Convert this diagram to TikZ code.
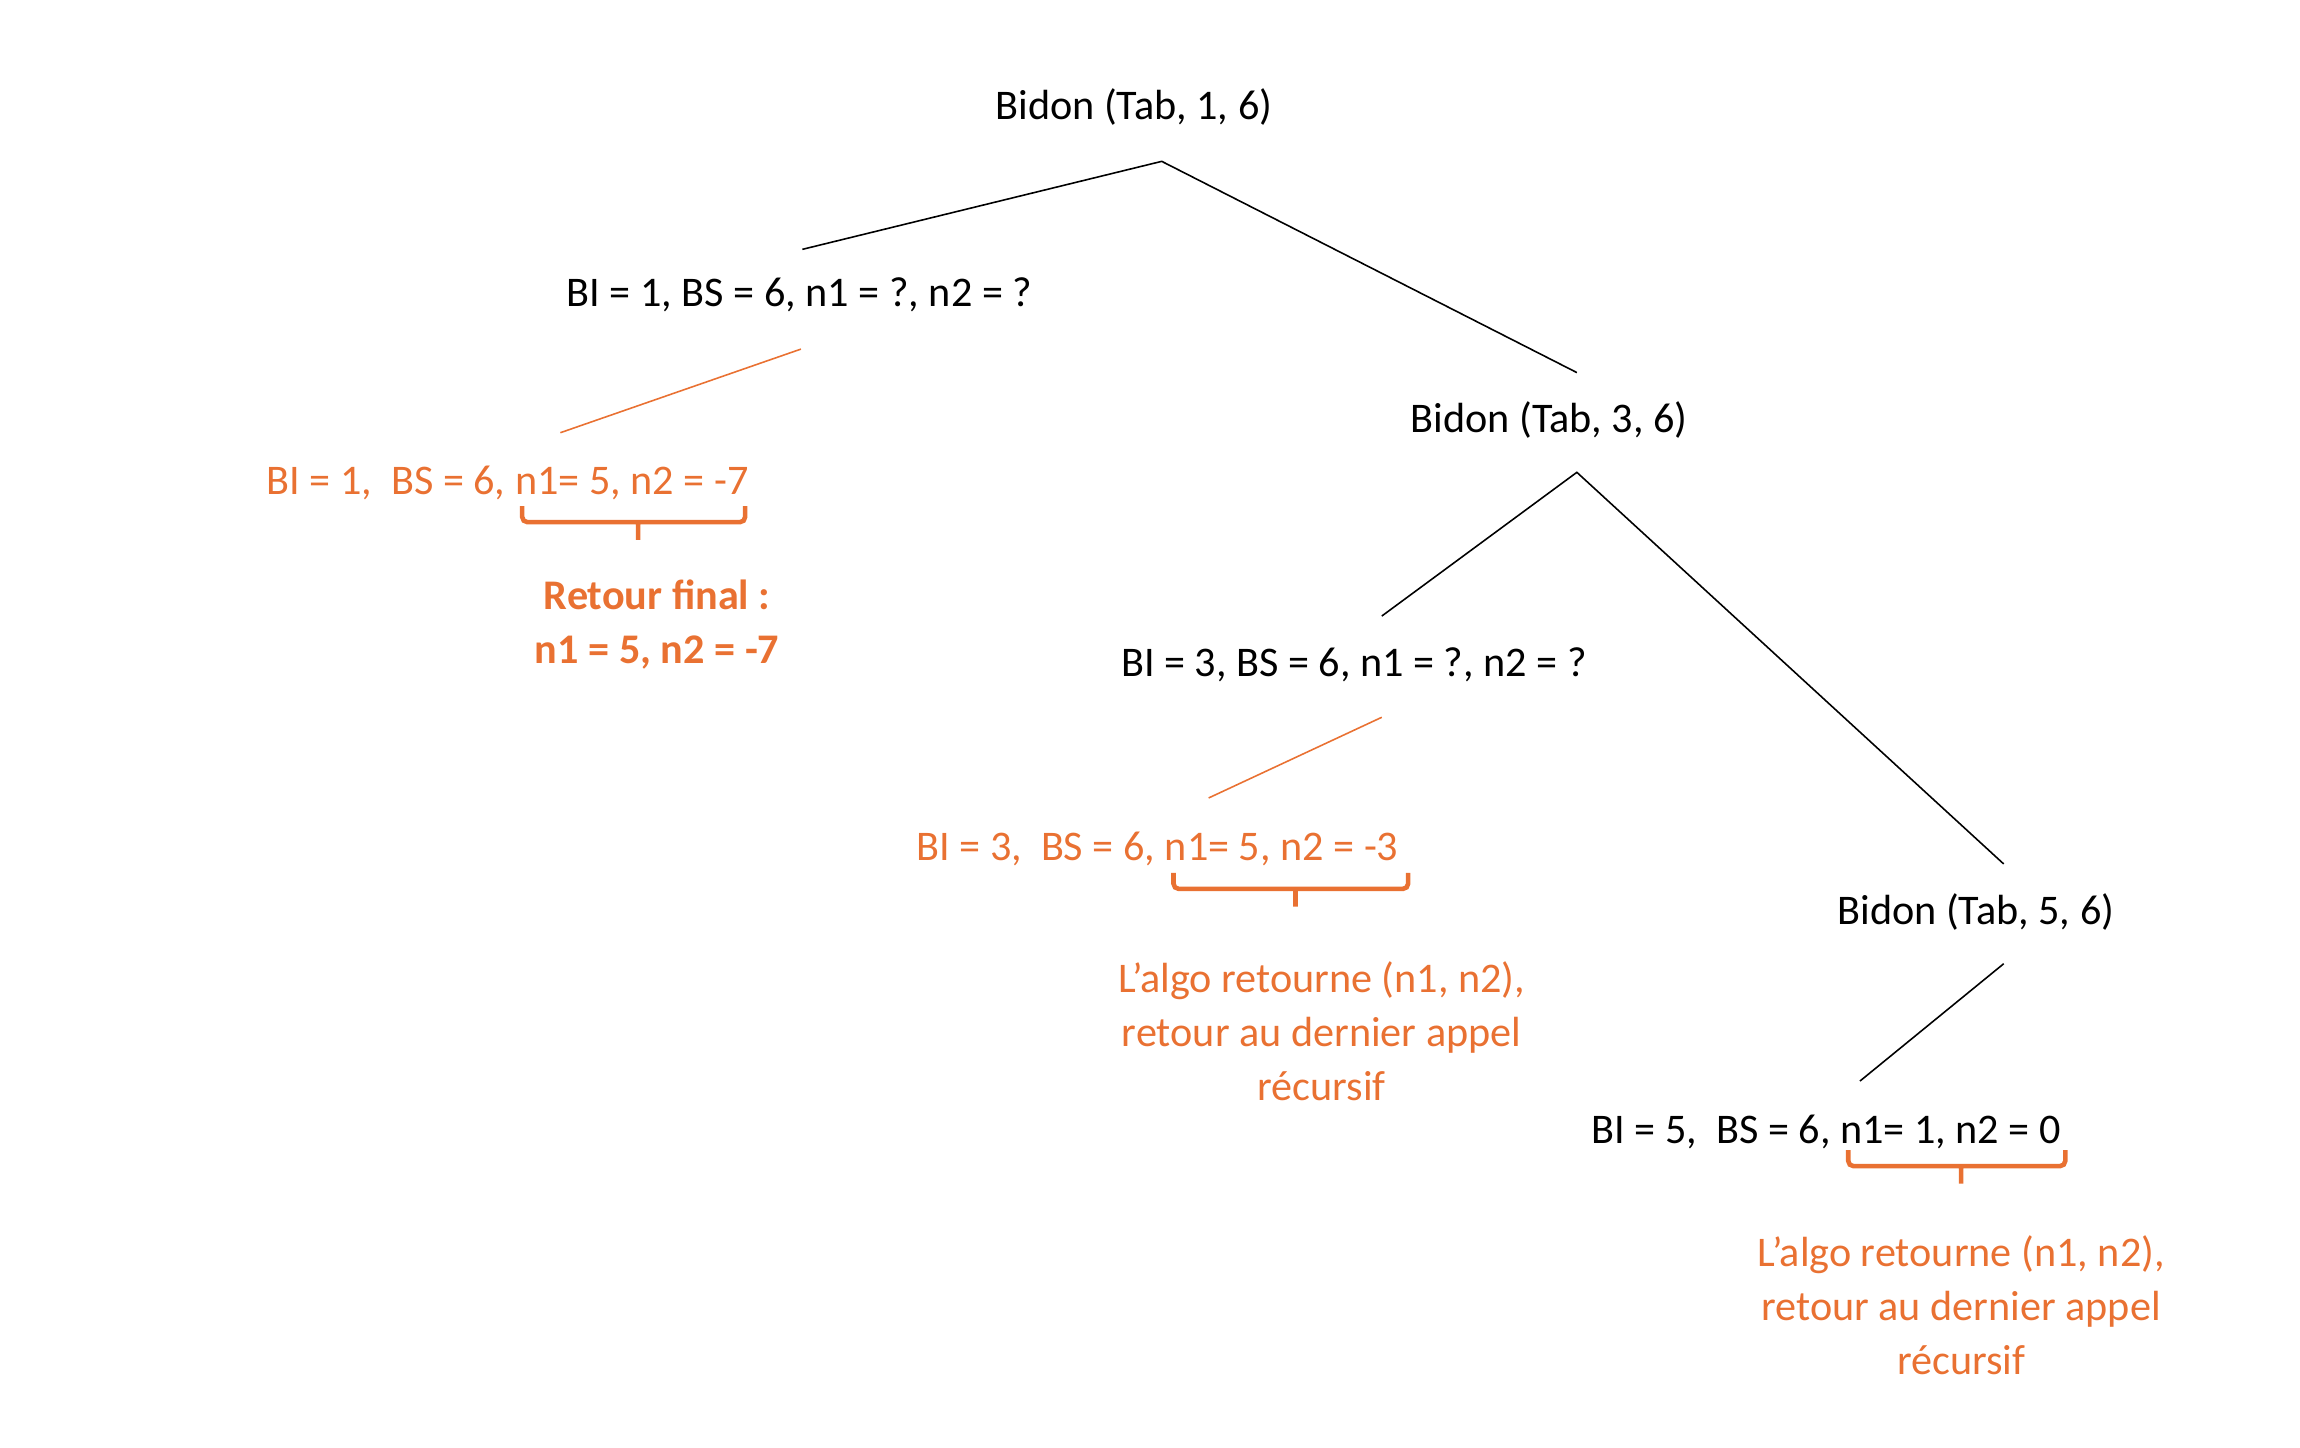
\documentclass[tikz,border=0pt]{standalone}
\usepackage{fontspec}
\setmainfont{Carlito}
\usetikzlibrary{calc}
\definecolor{accent}{HTML}{E97132}
\tikzset{every node/.style={font=\fontsize{12}{15.3}\selectfont}}

\begin{document}
\begin{tikzpicture}[
            x=0.014668cm, y=-0.014668cm,
            call/.style={inner sep=0pt},
            result/.style={inner sep=0pt,text=accent,align=center},
            edge/.style={draw,line width=0.45pt},
            hint/.style={draw=accent,line width=0.45pt},
            bracket/.style={draw=accent,line width=1.3pt,rounded corners=1.5pt,
                to path={-- ($(\tikztostart)+(0,11)$) -- ($(\tikztotarget)+(0,11)$) -- (\tikztotarget)
                    ($(\tikztostart)!0.52!(\tikztotarget)+(0,11)$) -- ++(0,12)}}
            ]
            \useasboundingbox (0,0) rectangle (1568,986.5);
            % calls
            \node[call] (root) at (773,73) {Bidon (Tab, 1, 6)};
            \node[call] (c1) at (545,201) {BI = 1, BS = 6, n1 = ?, n2 = ?};
            \node[call] (n2) at (1056,286) {Bidon (Tab, 3, 6)};
            \node[call] (c2) at (923,453) {BI = 3, BS = 6, n1 = ?, n2 = ?};
            \node[call] (n3) at (1347,622) {Bidon (Tab, 5, 6)};
            \node[call] (c3) at (1245,772) {BI = 5,\ \ BS = 6, n1= 1, n2 = 0};
            % returns
            \node[result] (o1) at (346,329) {BI = 1,\ \ BS = 6, n1= 5, n2 = -7};
            \node[result,font=\fontsize{12}{15.3}\selectfont\bfseries] (r1) at (448,426) {Retour final :\\n1 = 5, n2 = -7};
            \node[result] (o2) at (789,579) {BI = 3,\ \ BS = 6, n1= 5, n2 = -3};
            \node[result] (r2) at (901,703) {L’algo retourne (n1, n2),\\retour au dernier appel\\récursif};
            \node[result] (r3) at (1337,890) {L’algo retourne (n1, n2),\\retour au dernier appel\\récursif};
            % line ends
            \coordinate (root-s) at (792,110);
            \coordinate (c1-n) at (547,170);
            \coordinate (c1-s) at (546,238);
            \coordinate (o1-n) at (382,295);
            \coordinate (n2-n) at (1075,254);
            \coordinate (n2-s) at (1075,322);
            \coordinate (c2-n) at (942,420);
            \coordinate (c2-s) at (942,489);
            \coordinate (o2-n) at (824,544);
            \coordinate (n3-n) at (1366,589);
            \coordinate (n3-s) at (1366,657);
            \coordinate (c3-n) at (1268,737);
            \draw[edge] (c1-n) -- (root-s) -- (n2-n);
            \draw[edge] (c2-n) -- (n2-s) -- (n3-n);
            \draw[edge] (n3-s) -- (c3-n);
            \draw[hint] (c1-s) -- (o1-n);
            \draw[hint] (c2-s) -- (o2-n);
            % braces
            \coordinate (b1-l) at (356,345);
            \coordinate (b1-r) at (508,345);
            \coordinate (b2-l) at (800,595);
            \coordinate (b2-r) at (960,595);
            \coordinate (b3-l) at (1260,784);
            \coordinate (b3-r) at (1408,784);
            \draw[bracket] (b1-l) to (b1-r);
            \draw[bracket] (b2-l) to (b2-r);
            \draw[bracket] (b3-l) to (b3-r);
\end{tikzpicture}
\end{document}
